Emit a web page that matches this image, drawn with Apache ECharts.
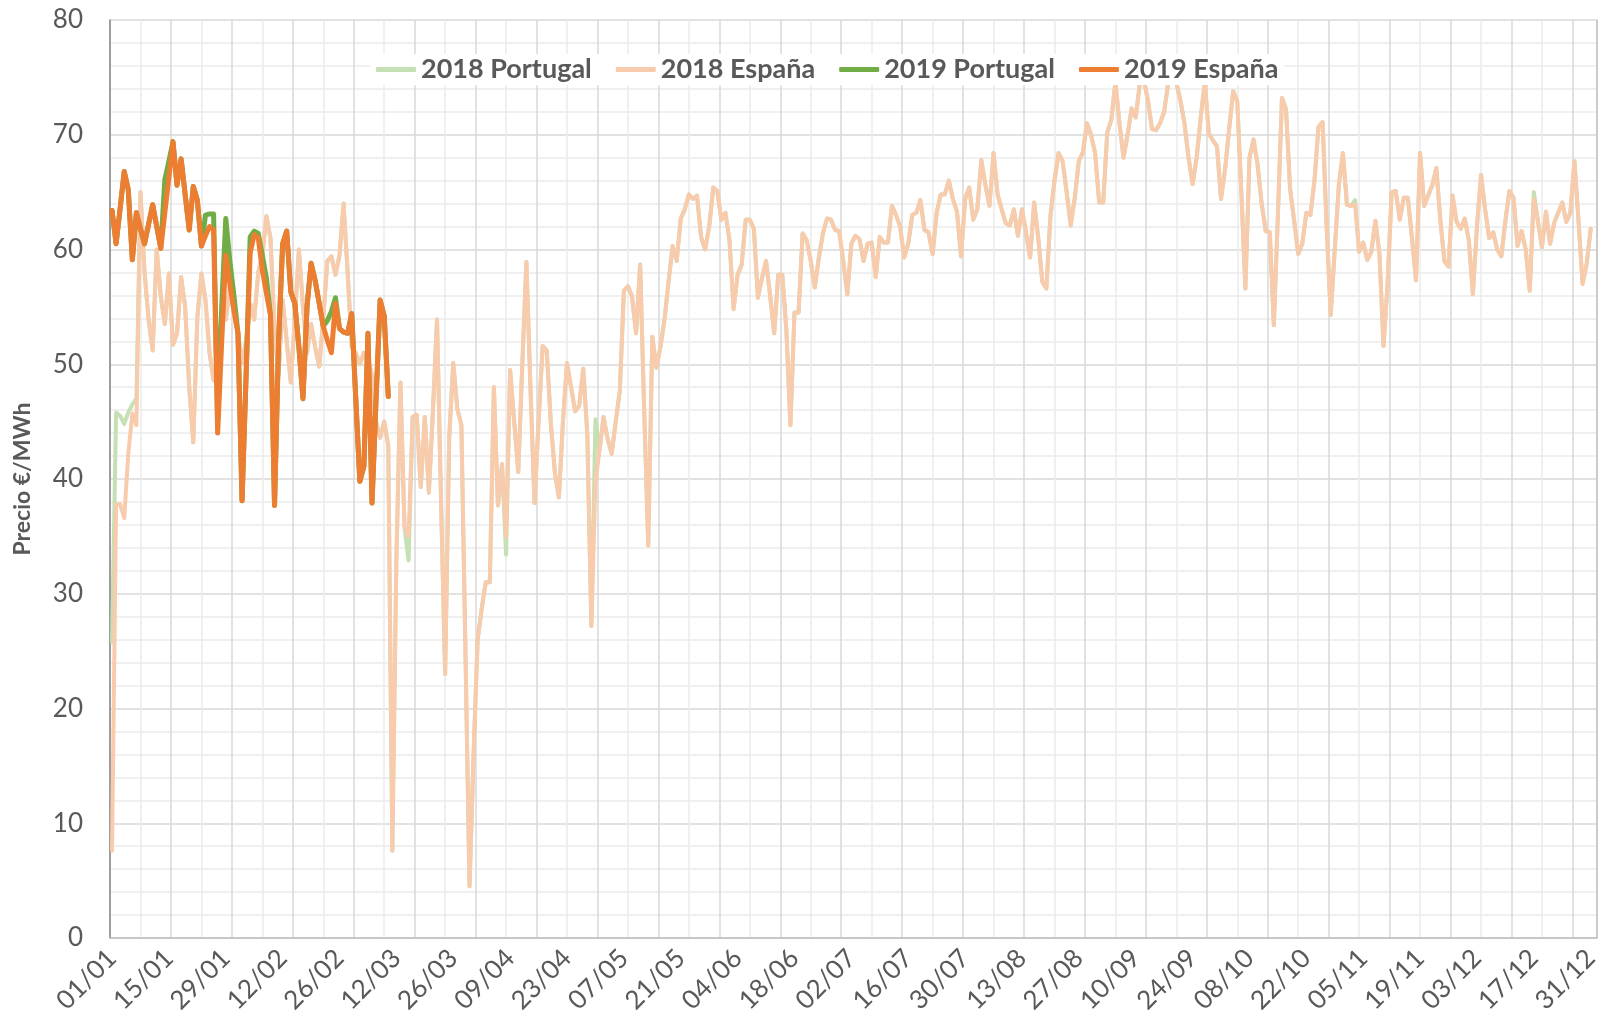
<!DOCTYPE html>
<html>
<head>
<meta charset="utf-8">
<script src="https://cdn.jsdelivr.net/npm/echarts@6/dist/echarts.min.js"></script>
<style>
  html, body { margin: 0; padding: 0; background: #fff; }
  #chart { width: 1602px; height: 1031px; }
</style>
</head>
<body>
<div id="chart"></div>
<script>
// daily price, index 0 = 01/01
const es2018 = [
  7.6, 37.8, 37.8, 36.6, 42.2, 45.7, 44.7, 65.0, 58.0, 53.9,
  51.2, 60.0, 55.9, 53.5, 57.9, 51.7, 52.7, 57.6, 55.0, 48.0,
  43.2, 54.1, 57.9, 55.6, 51.0, 48.6, 48.7, 54.9, 53.9, 56.8,
  54.4, 52.7, 50.1, 52.0, 55.3, 53.9, 58.0, 59.5, 62.9, 61.0,
  53.0, 49.1, 55.6, 52.0, 48.4, 54.0, 60.0, 55.0, 51.0, 53.5,
  51.5, 49.8, 54.0, 59.0, 59.4, 57.8, 59.5, 64.0, 58.0, 51.5,
  51.0, 50.0, 51.0, 50.5, 49.0, 45.0, 43.6, 45.0, 42.9, 7.6,
  33.0, 48.4, 35.8, 35.0, 45.4, 45.6, 39.3, 45.4, 38.8, 46.0,
  53.9, 38.0, 23.0, 43.6, 50.1, 46.1, 44.7, 25.0, 4.5, 16.0,
  26.0, 28.7, 31.0, 31.0, 48.0, 37.7, 41.3, 35.0, 49.5, 45.0,
  40.6, 50.0, 58.9, 48.0, 37.9, 45.0, 51.6, 51.2, 45.0, 40.6,
  38.4, 45.0, 50.1, 48.0, 45.9, 46.4, 49.6, 43.9, 27.2, 39.7,
  42.5, 45.4, 43.5, 42.2, 45.0, 47.7, 56.4, 56.8, 55.9, 52.7,
  58.7, 46.0, 34.2, 52.4, 49.7, 51.5, 53.9, 57.2, 60.3, 59.0,
  62.7, 63.5, 64.8, 64.4, 64.7, 61.1, 60.0, 62.0, 65.4, 65.1,
  62.6, 63.2, 60.8, 54.8, 57.8, 58.7, 62.6, 62.6, 61.8, 55.8,
  57.5, 59.0, 56.0, 52.7, 57.8, 57.8, 53.0, 44.7, 54.5, 54.5,
  61.4, 60.8, 59.0, 56.7, 59.3, 61.4, 62.7, 62.6, 61.7, 61.6,
  59.0, 56.1, 60.5, 61.2, 60.9, 59.0, 60.5, 60.6, 57.6, 61.1,
  60.6, 60.6, 63.8, 63.0, 62.0, 59.3, 60.5, 63.0, 63.2, 64.3,
  61.7, 61.5, 59.6, 63.2, 64.8, 64.8, 66.0, 64.4, 63.3, 59.4,
  64.4, 65.4, 62.6, 63.5, 67.8, 65.6, 63.8, 68.4, 64.8, 63.5,
  62.3, 62.1, 63.5, 61.2, 63.5, 61.5, 59.3, 64.1, 61.0, 57.2,
  56.6, 62.9, 66.0, 68.4, 67.7, 65.0, 62.1, 64.5, 67.7, 68.5,
  71.0, 70.0, 68.4, 64.1, 64.1, 70.2, 71.3, 74.6, 71.0, 68.0,
  70.0, 72.3, 71.5, 74.4, 74.8, 73.0, 70.5, 70.4, 71.0, 72.0,
  74.5, 75.0, 74.5, 73.0, 71.0, 68.0, 65.7, 68.0, 71.5, 74.6,
  70.1, 69.5, 69.0, 64.4, 67.0, 70.5, 73.8, 72.9, 65.0, 56.6,
  68.0, 69.6, 67.4, 64.0, 61.6, 61.5, 53.4, 63.0, 73.2, 72.2,
  65.3, 62.5, 59.6, 60.5, 63.2, 63.0, 66.0, 70.7, 71.1, 62.0,
  54.3, 60.0, 65.6, 68.4, 63.9, 63.8, 63.9, 59.8, 60.6, 59.1,
  59.8, 62.5, 59.6, 51.6, 57.0, 65.0, 65.1, 62.6, 64.5, 64.5,
  61.0, 57.3, 68.4, 63.8, 64.7, 65.6, 67.1, 62.5, 59.0, 58.5,
  64.7, 62.4, 61.8, 62.7, 60.8, 56.1, 62.0, 66.5, 63.5, 61.0,
  61.5, 60.0, 59.4, 62.5, 65.1, 64.5, 60.3, 61.6, 60.0, 56.4,
  64.4, 62.5, 60.2, 63.3, 60.5, 62.3, 63.2, 64.1, 62.4, 63.2,
  67.7, 62.5, 57.0, 58.7, 61.8
];

const pt2018 = [
  25.8, 45.8, 45.5, 44.8, 45.8, 46.5, 47.0, 65.0, 58.0, 53.9,
  51.2, 60.0, 55.9, 53.5, 57.9, 51.7, 52.7, 57.6, 55.0, 48.0,
  43.2, 54.1, 57.9, 55.6, 51.0, 48.6, 48.7, 54.9, 53.9, 56.8,
  54.4, 52.7, 50.1, 52.0, 55.3, 53.9, 58.0, 59.5, 62.9, 61.0,
  53.0, 49.1, 55.6, 52.0, 48.4, 54.0, 60.0, 55.0, 51.0, 53.5,
  51.5, 49.8, 54.0, 59.0, 59.4, 57.8, 59.5, 64.0, 58.0, 51.5,
  51.0, 50.0, 51.0, 50.5, 49.0, 45.0, 43.6, 45.0, 42.9, 7.6,
  33.0, 48.4, 35.8, 32.9, 45.4, 45.6, 39.3, 45.4, 38.8, 46.0,
  53.9, 38.0, 23.0, 43.6, 50.1, 46.1, 44.7, 25.0, 4.5, 16.0,
  26.0, 28.7, 31.0, 31.0, 48.0, 37.7, 41.3, 33.4, 49.5, 45.0,
  40.6, 50.0, 58.9, 48.0, 37.9, 45.0, 51.6, 51.2, 45.0, 40.6,
  38.4, 45.0, 50.1, 48.0, 45.9, 46.4, 49.6, 43.9, 27.2, 45.2,
  42.5, 45.4, 43.5, 42.2, 45.0, 47.7, 56.4, 56.8, 55.9, 52.7,
  58.7, 46.0, 34.2, 52.4, 49.7, 51.5, 53.9, 57.2, 60.3, 59.0,
  62.7, 63.5, 64.8, 64.4, 64.7, 61.1, 60.0, 62.0, 65.4, 65.1,
  62.6, 63.2, 60.8, 54.8, 57.8, 58.7, 62.6, 62.6, 61.8, 55.8,
  57.5, 59.0, 56.0, 52.7, 57.8, 57.8, 53.0, 44.7, 54.5, 54.5,
  61.4, 60.8, 59.0, 56.7, 59.3, 61.4, 62.7, 62.6, 61.7, 61.6,
  59.0, 56.1, 60.5, 61.2, 60.9, 59.0, 60.5, 60.6, 57.6, 61.1,
  60.6, 60.6, 63.8, 63.0, 62.0, 59.3, 60.5, 63.0, 63.2, 64.3,
  61.7, 61.5, 59.6, 63.2, 64.8, 64.8, 66.0, 64.4, 63.3, 59.4,
  64.4, 65.4, 62.6, 63.5, 67.8, 65.6, 63.8, 68.4, 64.8, 63.5,
  62.3, 62.1, 63.5, 61.2, 63.5, 61.5, 59.3, 64.1, 61.0, 57.2,
  56.6, 62.9, 66.0, 68.4, 67.7, 65.0, 62.1, 64.5, 67.7, 68.5,
  71.0, 70.0, 68.4, 64.1, 64.1, 70.2, 71.3, 74.6, 71.0, 68.0,
  70.0, 72.3, 71.5, 74.4, 74.8, 73.0, 70.5, 70.4, 71.0, 72.0,
  74.5, 75.0, 74.5, 73.0, 71.0, 68.0, 65.7, 68.0, 71.5, 74.6,
  70.1, 69.5, 69.0, 64.4, 67.0, 70.5, 73.8, 72.9, 65.0, 56.6,
  68.0, 69.6, 67.4, 64.0, 61.6, 61.5, 53.4, 63.0, 73.2, 72.2,
  65.3, 62.5, 59.6, 60.5, 63.2, 63.0, 66.0, 70.7, 71.1, 62.0,
  54.3, 60.0, 65.6, 68.4, 63.9, 63.8, 64.3, 59.8, 60.6, 59.1,
  59.8, 62.5, 59.6, 51.6, 57.0, 65.0, 65.1, 62.6, 64.5, 64.5,
  61.0, 57.3, 68.4, 63.8, 64.7, 65.6, 67.1, 62.5, 59.0, 58.5,
  64.7, 62.4, 61.8, 62.7, 60.8, 56.1, 62.0, 66.5, 63.5, 61.0,
  61.5, 60.0, 59.4, 62.5, 65.1, 64.5, 60.3, 61.6, 60.0, 56.4,
  65.0, 62.5, 60.2, 63.3, 60.5, 62.3, 63.2, 64.1, 62.4, 63.2,
  67.7, 62.5, 57.0, 58.7, 61.8
];

const pt2019 = [
  63.4, 60.5, 63.6, 66.8, 65.2, 59.1, 63.2, 61.8, 60.5, 62.2,
  63.9, 62.0, 60.1, 66.1, 67.7, 69.4, 65.6, 67.9, 64.8, 61.7,
  65.5, 64.3, 60.3, 63.0, 63.1, 63.1, 45.0, 55.0, 62.7, 59.0,
  56.0, 52.7, 38.1, 49.0, 61.1, 61.6, 61.4, 59.5, 57.5, 54.3,
  37.7, 52.0, 60.5, 61.6, 56.3, 55.3, 51.5, 47.0, 55.0, 58.8,
  57.3, 55.3, 53.3, 53.8, 54.6, 55.8, 53.1, 52.8, 52.7, 54.4,
  47.0, 39.8, 41.1, 52.7, 37.9, 47.0, 55.6, 54.2, 47.2
];

const es2019 = [
  63.4, 60.5, 63.6, 66.8, 65.2, 59.1, 63.2, 61.8, 60.5, 62.2,
  63.9, 62.0, 60.1, 63.2, 66.3, 69.4, 65.6, 67.9, 64.8, 61.7,
  65.5, 64.3, 60.3, 61.2, 62.0, 61.7, 44.0, 52.0, 59.5, 57.0,
  54.7, 52.7, 38.1, 49.0, 59.7, 61.3, 61.0, 58.2, 56.2, 54.3,
  37.7, 52.0, 60.5, 61.6, 56.3, 55.3, 51.5, 47.0, 55.0, 58.8,
  57.3, 55.3, 53.3, 52.1, 51.0, 55.3, 53.1, 52.8, 52.7, 54.4,
  47.0, 39.8, 41.1, 52.7, 37.9, 47.0, 55.6, 54.2, 47.2
];

const seriesNames = ['2018 Portugal', '2018 España', '2019 Portugal', '2019 España'];
const seriesColors = ['#c5e0b4', '#f8cbad', '#70ad47', '#ed7d31'];

// one category per day (dd/mm), plus one empty slot at the end of the axis
const days = [];
for (let i = 0; i < 366; i++) {
  const d = new Date(Date.UTC(2018, 0, 1 + i));
  days.push(String(d.getUTCDate()).padStart(2, '0') + '/' + String(d.getUTCMonth() + 1).padStart(2, '0'));
}

const txt = '#595959';
const font = 'Lato';

const chart = echarts.init(document.getElementById('chart'));
chart.setOption({
  animation: false,
  backgroundColor: '#fff',
  grid: { left: 110, right: 4, top: 20, bottom: 93 },
  legend: {
    data: seriesNames, top: 54, left: 370,
    icon: 'roundRect', itemWidth: 40, itemHeight: 5, itemGap: 24,
    backgroundColor: '#fff', padding: [2, 6],
    textStyle: { color: txt, fontSize: 27, fontWeight: 'bold', fontFamily: font }
  },
  xAxis: [
    {
      type: 'category', data: days, boundaryGap: true,
      axisLine: { lineStyle: { color: '#bfbfbf', width: 1.5 } },
      axisTick: { show: false },
      axisLabel: { interval: 13, rotate: 45, color: txt, fontSize: 26, fontFamily: font, margin: 16 },
      splitLine: { show: false }
    },
    {
      // only used for the vertical grid (major every 15 days, minor halfway)
      type: 'value', min: 0, max: 366, interval: 7.5,
      axisLine: { show: false }, axisTick: { show: false }, axisLabel: { show: false },
      splitLine: { show: true, lineStyle: { color: ['#d9d9d9', '#ebebeb'], width: 1.5 } }
    }
  ],
  yAxis: [
    {
      type: 'value', min: 0, max: 80, interval: 10,
      name: 'Precio €/MWh', nameLocation: 'middle', nameGap: 76,
      nameTextStyle: { color: txt, fontSize: 23, fontWeight: 'bold', fontFamily: font },
      axisLine: { show: true, lineStyle: { color: '#868686', width: 1.5 } },
      axisTick: { show: false },
      axisLabel: { color: txt, fontSize: 26, fontFamily: font, margin: 27 },
      splitLine: { lineStyle: { color: '#d9d9d9', width: 1.5 } },
      minorTick: { show: false, splitNumber: 5 },
      minorSplitLine: { show: true, lineStyle: { color: '#ebebeb', width: 1.5 } }
    },
    {
      type: 'value', min: 0, max: 80, position: 'right',
      axisLine: { show: true, lineStyle: { color: '#bfbfbf', width: 1.5 } },
      axisTick: { show: false }, axisLabel: { show: false }, splitLine: { show: false }
    }
  ],
  series: [
    { name: seriesNames[0], data: pt2018, width: 4 },
    { name: seriesNames[1], data: es2018, width: 4 },
    { name: seriesNames[2], data: pt2019, width: 5 },
    { name: seriesNames[3], data: es2019, width: 5 }
  ].map((s, i) => ({
    name: s.name, type: 'line', data: s.data,
    xAxisIndex: 0, yAxisIndex: 0,
    showSymbol: false, symbol: 'none',
    color: seriesColors[i],
    lineStyle: { color: seriesColors[i], width: s.width, join: 'round', cap: 'round' }
  }))
});
</script>
</body>
</html>
